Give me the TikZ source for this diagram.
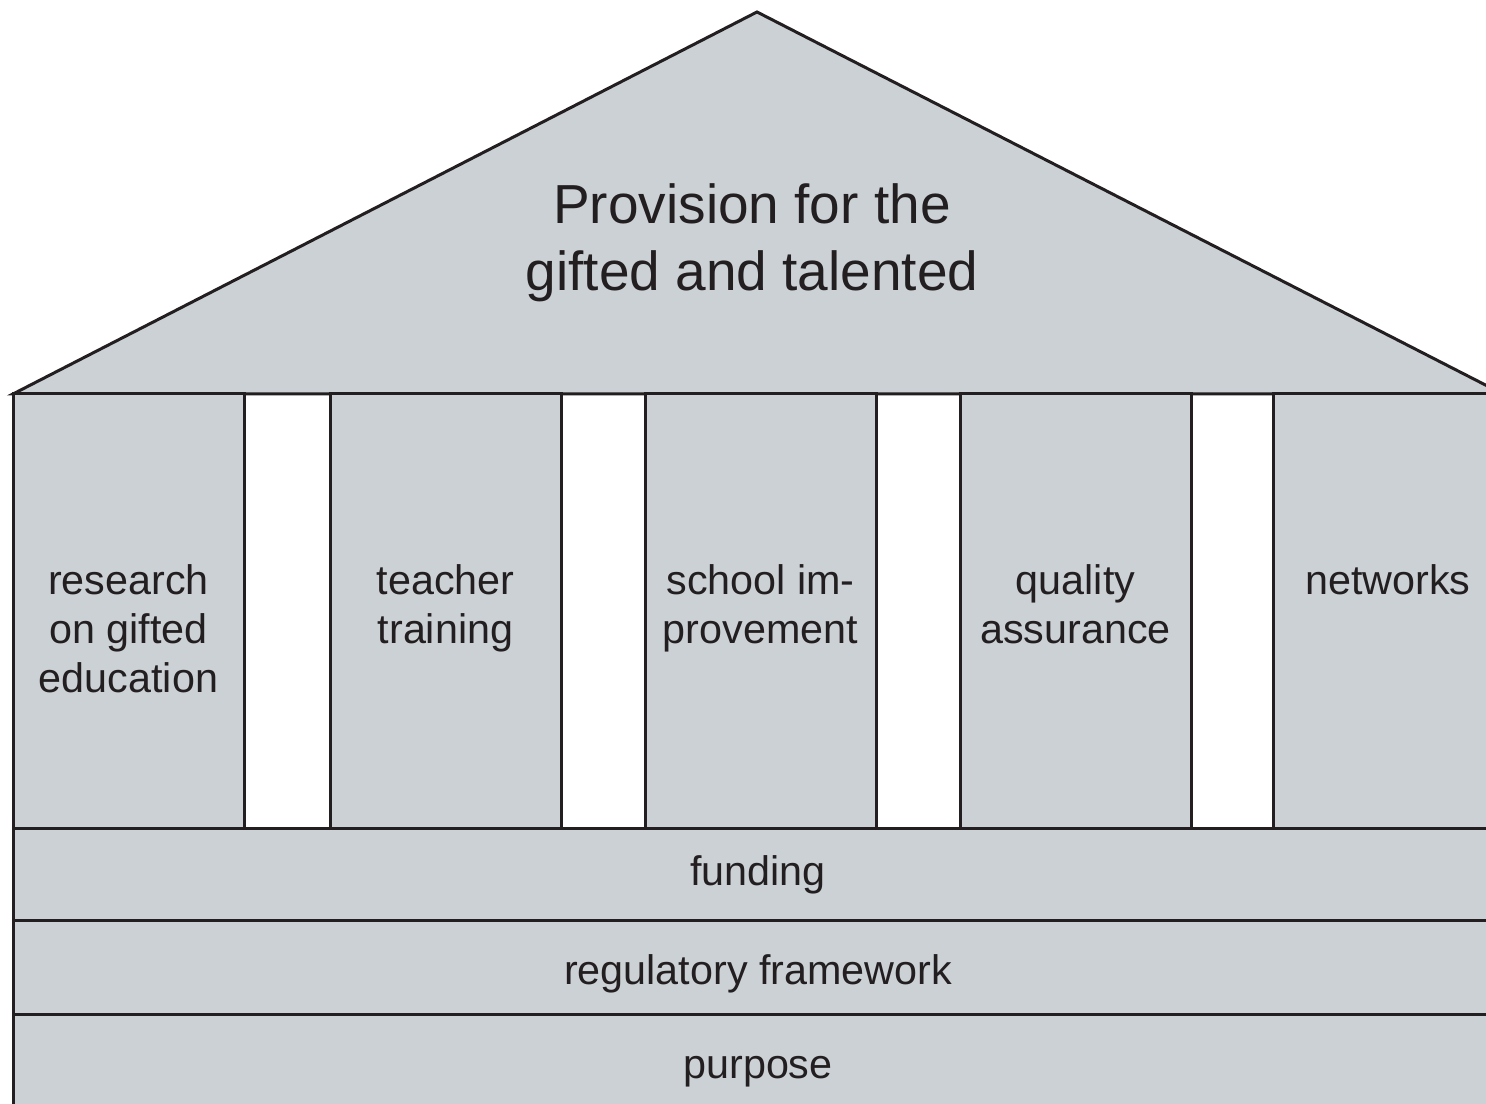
\documentclass[tikz,border=0pt]{standalone}
\usepackage{fontspec}
\setmainfont{Liberation Sans}

\begin{document}
\begin{tikzpicture}[x=1pt,y=1pt,
  part/.style={draw=drawColor,fill=fillColor,line width=1.5pt,line join=miter},
  roofText/.style={text=drawColor,anchor=base,inner sep=0pt,outer sep=0pt,font=\fontsize{27.5}{33}\selectfont},
  partText/.style={text=drawColor,anchor=base,inner sep=0pt,outer sep=0pt,font=\fontsize{20.65}{25}\selectfont}]
\definecolor{fillColor}{RGB}{203,209,213}
\definecolor{drawColor}{RGB}{35,31,32}
\path[use as bounding box,fill=white] (0,0) rectangle (743.00,551.50);
\begin{scope}
\path[clip] (  0.00,  0.00) rectangle (743.00,551.50);

% roof
\path[part] (  6.50,354.50) -- (378.50,545.50) -- (751.50,354.50) -- cycle;

\node[roofText] (title1) at (376.00,439.50) {Provision for the};
\node[roofText] (title2) at (376.00,406.00) {gifted and talented};

% pillars
\path[part] (  6.50,137.50) rectangle (122.00,354.50);

\path[part] (165.00,137.50) rectangle (280.50,354.50);

\path[part] (322.50,137.50) rectangle (438.00,354.50);

\path[part] (480.00,137.50) rectangle (595.50,354.50);

\path[part] (636.50,137.50) rectangle (751.50,354.50);

\node[partText] (research1) at ( 64.25,254.00) {research};
\node[partText] (research2) at ( 64.25,229.50) {on gifted};
\node[partText] (research3) at ( 64.25,205.00) {education};

\node[partText] (teacher1) at (222.75,254.00) {teacher};
\node[partText] (teacher2) at (222.75,229.50) {training};

\node[partText] (school1) at (380.25,254.00) {school im-};
\node[partText] (school2) at (380.25,229.50) {provement};

\node[partText] (quality1) at (537.75,254.00) {quality};
\node[partText] (quality2) at (537.75,229.50) {assurance};

\node[partText] (networks) at (694.00,254.00) {networks};

% foundation
\path[part] (  6.50, 91.50) rectangle (751.50,137.50);

\path[part] (  6.50, 44.50) rectangle (751.50, 91.50);

\path[part] (  6.50, -5.00) rectangle (751.50, 44.50);

\node[partText] (funding) at (379.00,109.00) {funding};

\node[partText] (regulatory) at (379.00, 59.50) {regulatory framework};

\node[partText] (purpose) at (379.00, 12.50) {purpose};
\end{scope}
\end{tikzpicture}
\end{document}
